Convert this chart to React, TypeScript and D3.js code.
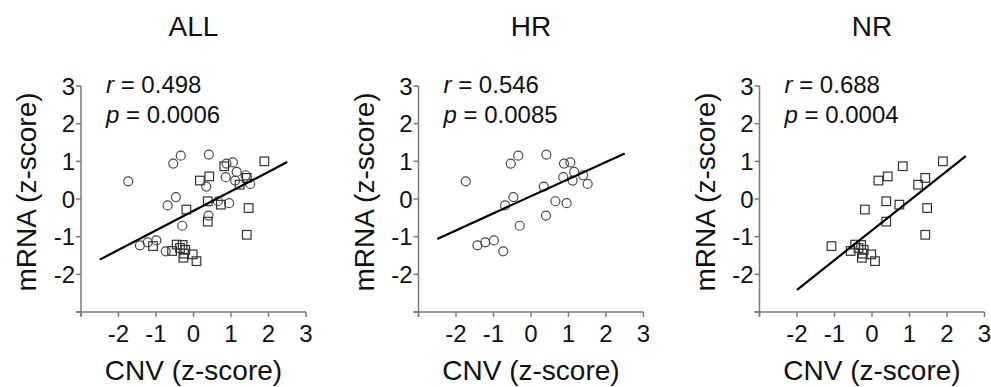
import React from 'react';
import * as d3 from 'd3';

const panelTitles = ['ALL', 'HR', 'NR'];
const rValues = ['0.498', '0.546', '0.688'];
const pValues = ['0.0006', '0.0085', '0.0004'];

// HR group (circles): CNV z-score, mRNA z-score
const hrCnv = [-1.74, -0.54, -0.34, 0.41, 0.88, 1.05, 1.15, 0.86, 1.39, 1.11, 1.51, 0.34, -0.47, -0.69, 0.65, 0.95, 0.40, -0.30, -1.43, -1.22, -0.99, -0.74];
const hrMrna = [0.47, 0.94, 1.15, 1.18, 0.94, 0.97, 0.72, 0.58, 0.63, 0.49, 0.40, 0.33, 0.05, -0.17, -0.06, -0.11, -0.44, -0.71, -1.23, -1.15, -1.10, -1.39];

// NR group (squares)
const nrCnv = [1.89, 0.82, 0.42, 0.17, 1.42, 1.23, 0.38, 0.73, -0.19, 1.47, 0.38, 1.42, -1.08, -0.57, -0.45, -0.29, -0.22, -0.27, -0.02, 0.08, -0.36, -0.25];
const nrMrna = [1.0, 0.87, 0.60, 0.49, 0.56, 0.38, -0.06, -0.15, -0.28, -0.24, -0.60, -0.95, -1.25, -1.38, -1.21, -1.22, -1.35, -1.56, -1.47, -1.65, -1.30, -1.45];

// regression line endpoints per panel
const fitX = [[-2.5, 2.5], [-2.5, 2.5], [-2.0, 2.5]];
const fitY = [[-1.61, 0.98], [-1.06, 1.21], [-2.41, 1.14]];

const xTicks = [-3, -2, -1, 0, 1, 2, 3];
const yTicks = [-3, -2, -1, 0, 1, 2, 3];

const panelLeft = [81, 418.5, 759.5];
const FONT = 'Liberation Sans, Arial, Helvetica, sans-serif';
const AXIS = '#7a7a7a';

function Panel({ idx }: { idx: number }) {
  const x0 = panelLeft[idx];
  const x = d3.scaleLinear().domain([-3, 3]).range([x0, x0 + 225]);
  const y = d3.scaleLinear().domain([-3, 3]).range([312, 86]);
  const showCircles = idx === 0 || idx === 1;
  const showSquares = idx === 0 || idx === 2;
  const line = d3.line<number>()
    .x((_, i) => x(fitX[idx][i]))
    .y((_, i) => y(fitY[idx][i]));
  const cx = (x.range()[0] + x.range()[1]) / 2;
  const sq = 8.6;
  return (
    <g>
      <text x={cx} y={36} textAnchor="middle" fontSize={28} fontFamily={FONT} fill="#111">{panelTitles[idx]}</text>
      <line x1={x(-3)} x2={x(-3)} y1={y(3)} y2={y(-3) + 5} stroke={AXIS} strokeWidth={1.5} />
      <line x1={x(-3) - 5} x2={x(3)} y1={y(-3)} y2={y(-3)} stroke={AXIS} strokeWidth={1.5} />
      {yTicks.map(t => (
        <g key={'y' + t}>
          <line x1={x(-3) - 5} x2={x(-3)} y1={y(t)} y2={y(t)} stroke={AXIS} strokeWidth={1.5} />
          {t > -3 && (
            <text x={x(-3) - 6} y={y(t)} dy="0.36em" textAnchor="end" fontSize={24} fontFamily={FONT} fill="#111">{String(t)}</text>
          )}
        </g>
      ))}
      {xTicks.map(t => (
        <g key={'x' + t}>
          <line x1={x(t)} x2={x(t)} y1={y(-3)} y2={y(-3) + 5} stroke={AXIS} strokeWidth={1.5} />
          {t > -3 && (
            <text x={x(t)} y={342} textAnchor="middle" fontSize={24} fontFamily={FONT} fill="#111">{String(t)}</text>
          )}
        </g>
      ))}
      <text transform={`translate(${x0 - 45},192) rotate(-90)`} textAnchor="middle" fontSize={28} fontFamily={FONT} fill="#111">mRNA (z-score)</text>
      <text x={cx} y={380} textAnchor="middle" fontSize={28} fontFamily={FONT} fill="#111">CNV (z-score)</text>
      <text x={x0 + 25} y={93} fontSize={24} fontFamily={FONT} fill="#111"><tspan fontStyle="italic">r</tspan> = {rValues[idx]}</text>
      <text x={x0 + 25} y={123} fontSize={24} fontFamily={FONT} fill="#111"><tspan fontStyle="italic">p</tspan> = {pValues[idx]}</text>
      {showCircles && hrCnv.map((v, i) => (
        <circle key={'c' + i} cx={x(v)} cy={y(hrMrna[i])} r={4.5} fill="none" stroke="#4a4a4a" strokeWidth={1.2} />
      ))}
      {showSquares && nrCnv.map((v, i) => (
        <rect key={'s' + i} x={x(v) - sq / 2} y={y(nrMrna[i]) - sq / 2} width={sq} height={sq} fill="none" stroke="#333" strokeWidth={1.2} />
      ))}
      <path d={line([0, 1]) || ''} stroke="#000" strokeWidth={2.2} fill="none" />
    </g>
  );
}

export default function App() {
  return (
    <svg width={991} height={387} style={{ position: 'absolute', left: 0, top: 0, background: '#fff' }}>
      <rect width={991} height={387} fill="#fff" />
      {[0, 1, 2].map(i => <Panel key={i} idx={i} />)}
    </svg>
  );
}
